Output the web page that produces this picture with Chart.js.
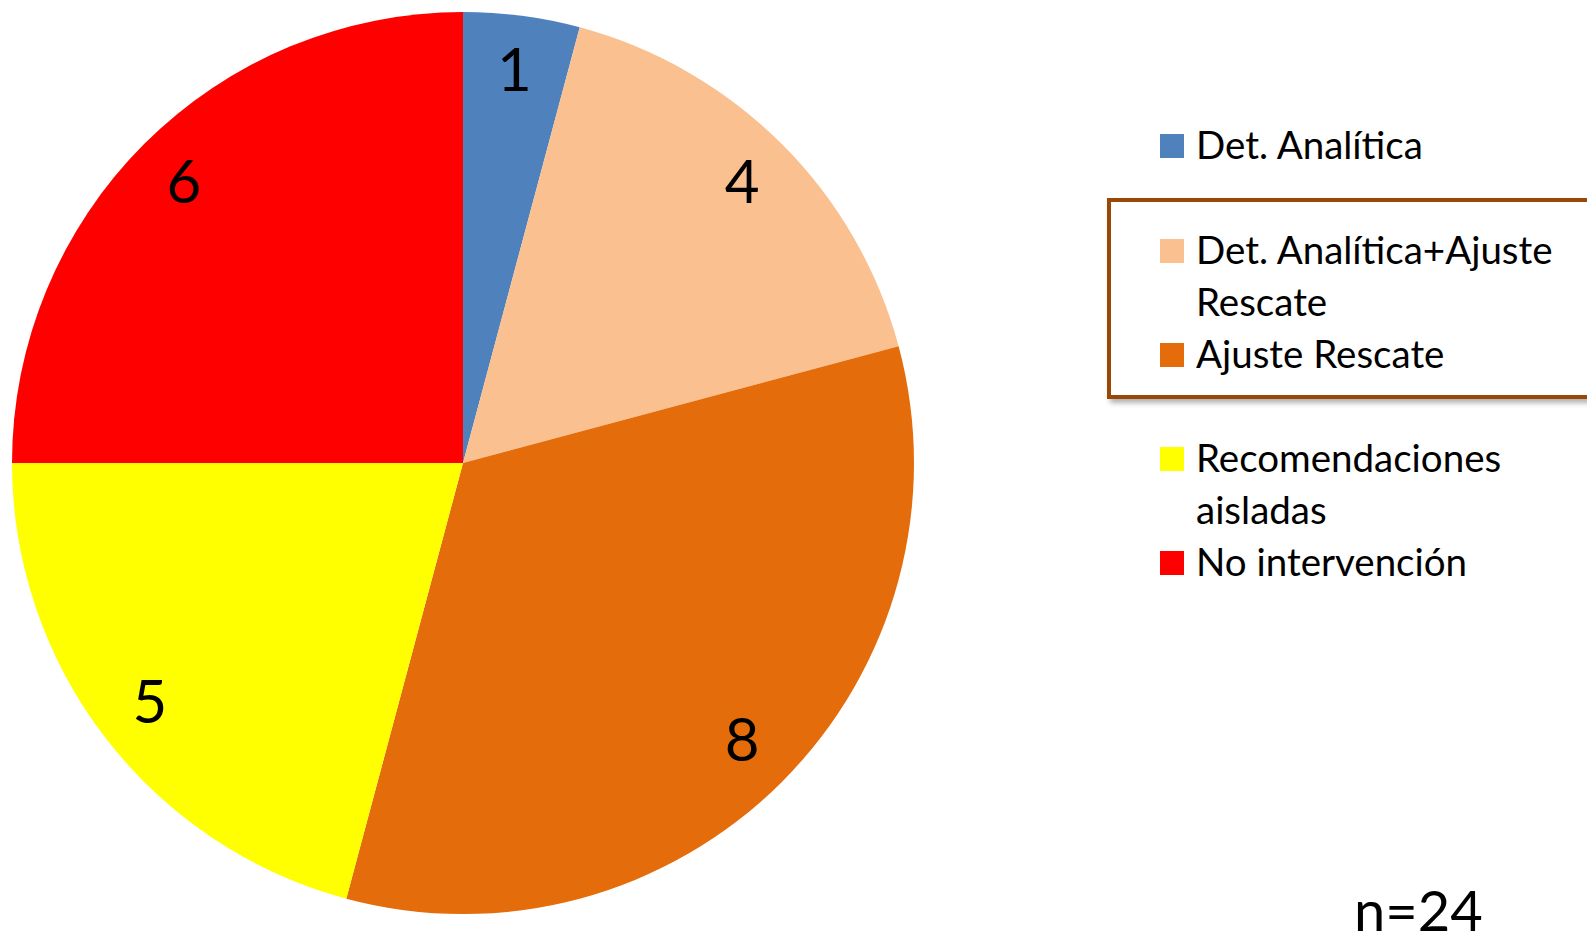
<!DOCTYPE html>
<html>
<head>
<meta charset="utf-8">
<script src="https://cdn.jsdelivr.net/npm/chart.js@4/dist/chart.umd.min.js"></script>
<style>
  body { margin: 0; background: #fff; width: 1587px; height: 934px; overflow: hidden; position: relative; font-family: Lato, "Open Sans", sans-serif; }
  #wrap { position: absolute; left: 0; top: 0; width: 926px; height: 926px; }
  .leg { position: absolute; left: 1160px; font-size: 38.5px; color: #000; line-height: 52px; }
  .leg .sw { position: absolute; left: 0; width: 24px; height: 24px; }
  .leg .tx { position: absolute; left: 36px; top: 2px; white-space: nowrap; }
  #box { position: absolute; left: 1107px; top: 198px; width: 500px; height: 193px; border: 4px solid #984807; box-shadow: 3px 4px 5px rgba(0,0,0,0.3); }
  #n { position: absolute; left: 1354px; top: 880px; font-size: 56px; line-height: 60px; }
</style>
</head>
<body>
<div id="wrap"><canvas id="chartPie" width="926" height="926"></canvas></div>
<div id="box"></div>
<div id="legend"></div>
<div id="n">n=24</div>
<script>
// ==================== DATOS ====================
const categorias = ['Det. Analítica', 'Det. Analítica+Ajuste Rescate', 'Ajuste Rescate', 'Recomendaciones aisladas', 'No intervención'];
const lineasLeyenda = [['Det. Analítica'], ['Det. Analítica+Ajuste', 'Rescate'], ['Ajuste Rescate'], ['Recomendaciones', 'aisladas'], ['No intervención']];
const valores = [1, 4, 8, 5, 6];
const colores = ['#4F81BD', '#FAC090', '#E46C0A', '#FFFF00', '#FF0000'];

// ==================== LEYENDA ====================
const legend = document.getElementById('legend');
const topsLeyenda = [116, 221, 325, 429, 533];
categorias.forEach(function(cat, i) {
    const row = document.createElement('div');
    row.className = 'leg';
    row.style.top = topsLeyenda[i] + 'px';
    row.innerHTML = '<div class="sw" style="top:18px;background:' + colores[i] + '"></div>' +
        '<div class="tx">' + lineasLeyenda[i].join('<br>') + '</div>';
    legend.appendChild(row);
});

// ==================== ETIQUETAS ====================
const etiquetas = {
    id: 'etiquetas',
    afterDatasetsDraw(chart) {
        const ctx = chart.ctx;
        const meta = chart.getDatasetMeta(0);
        ctx.save();
        ctx.font = '60px Lato, "Open Sans", sans-serif';
        ctx.fillStyle = '#000';
        ctx.textAlign = 'center';
        ctx.textBaseline = 'middle';
        meta.data.forEach(function(arc, i) {
            const p = arc.getProps(['x', 'y', 'startAngle', 'endAngle', 'outerRadius'], true);
            const a = (p.startAngle + p.endAngle) / 2;
            const r = p.outerRadius * 0.875;
            ctx.fillText(String(valores[i]), p.x + Math.cos(a) * r, p.y + Math.sin(a) * r);
        });
        ctx.restore();
    }
};

// ==================== GRÁFICO DE PASTEL ====================
document.addEventListener("DOMContentLoaded", function() {
    const ctxPie = document.getElementById('chartPie').getContext('2d');
    new Chart(ctxPie, {
        type: 'pie',
        data: {
            labels: categorias,
            datasets: [{
                data: valores,
                backgroundColor: colores,
                borderWidth: 0
            }]
        },
        options: {
            responsive: false,
            animation: false,
            layout: { padding: 12 },
            plugins: {
                legend: { display: false },
                tooltip: { enabled: false }
            }
        },
        plugins: [etiquetas]
    });
});
</script>
</body>
</html>
